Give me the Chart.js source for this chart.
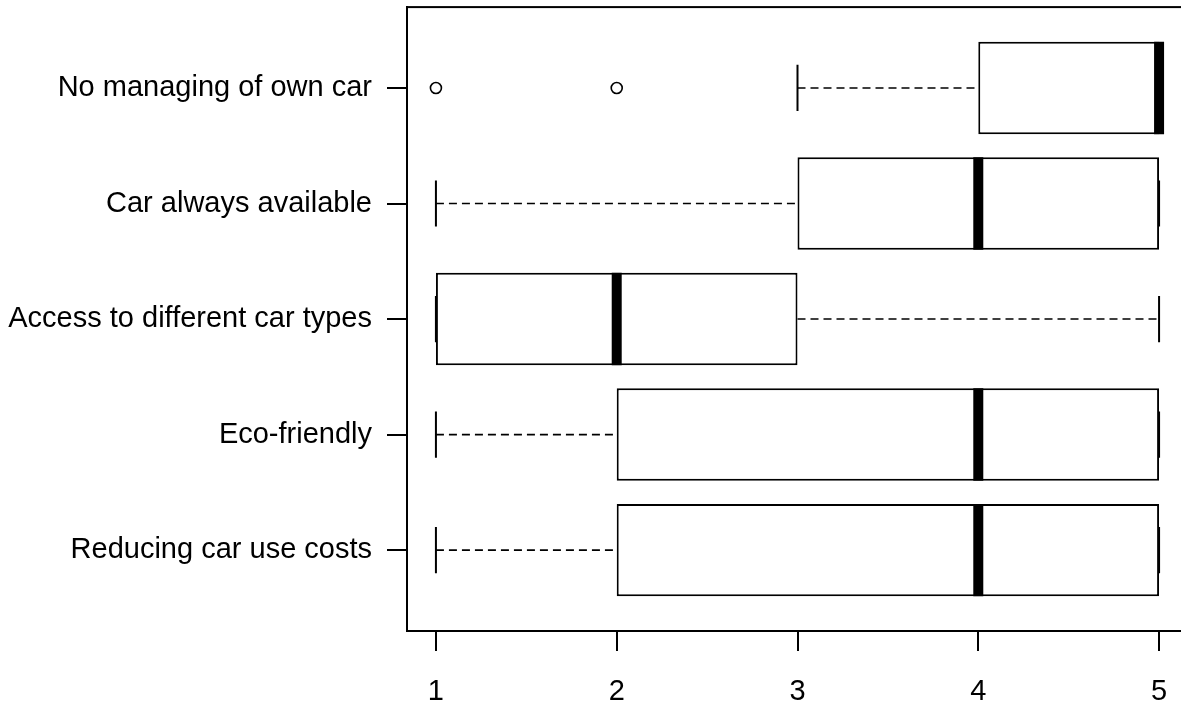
<!DOCTYPE html>
<html>
<head>
<meta charset="utf-8">
<script src="https://cdn.jsdelivr.net/npm/chart.js@4.4.1/dist/chart.umd.min.js"></script>
<style>
  html, body { margin: 0; padding: 0; background: #fff; overflow: hidden; }
  #wrap { width: 1181px; height: 711px; overflow: hidden; }
</style>
</head>
<body>
<div id="wrap"><canvas id="chart" width="1200" height="711"></canvas></div>
<script>
// categories from bottom (1) to top (5), like R's boxplot order
const categories = ['Reducing car use costs', 'Eco-friendly', 'Access to different car types', 'Car always available', 'No managing of own car'];
const whiskerLow = [1, 1, 1, 1, 3];
const q1 = [2, 2, 1, 3, 4];
const medians = [4, 4, 2, 4, 5];
const q3 = [5, 5, 3, 5, 5];
const whiskerHigh = [5, 5, 5, 5, 5];
const outliers = [[], [], [], [], [1, 2]];
const xTicks = [1, 2, 3, 4, 5];

const FONT = { family: "'Liberation Sans', Arial, sans-serif", size: 29 };

// boxes as floating bars, outliers as points
const boxData = categories.map((c, i) => ({ y: i + 1, x: [q1[i], q3[i]] }));
const outlierData = [];
outliers.forEach((arr, i) => arr.forEach(v => outlierData.push({ x: v, y: i + 1 })));

// whiskers, staples, medians and the frame, drawn with the chart's scales
const boxplotParts = {
  id: 'boxplotParts',
  beforeDatasetsDraw(chart) {
    const ctx = chart.ctx;
    const xs = chart.scales.x, ys = chart.scales.y;
    const bars = chart.getDatasetMeta(0).data;
    ctx.save();
    ctx.strokeStyle = '#000';
    categories.forEach((c, i) => {
      const y = ys.getPixelForValue(i + 1);
      const half = bars[i].height / 4;
      ctx.lineWidth = 1.6;
      ctx.setLineDash([8, 5]);
      ctx.beginPath();
      ctx.moveTo(xs.getPixelForValue(whiskerLow[i]), y);
      ctx.lineTo(xs.getPixelForValue(q1[i]), y);
      ctx.moveTo(xs.getPixelForValue(q3[i]), y);
      ctx.lineTo(xs.getPixelForValue(whiskerHigh[i]), y);
      ctx.stroke();
      ctx.setLineDash([]);
      ctx.lineWidth = 2;
      ctx.beginPath();
      [whiskerLow[i], whiskerHigh[i]].forEach(v => {
        const px = xs.getPixelForValue(v);
        ctx.moveTo(px, y - half);
        ctx.lineTo(px, y + half);
      });
      ctx.stroke();
    });
    ctx.restore();
  },
  afterDatasetsDraw(chart) {
    const ctx = chart.ctx;
    const xs = chart.scales.x, ys = chart.scales.y;
    const bars = chart.getDatasetMeta(0).data;
    const a = chart.chartArea;
    ctx.save();
    ctx.strokeStyle = '#000';
    ctx.lineWidth = 10;
    categories.forEach((c, i) => {
      const y = ys.getPixelForValue(i + 1);
      const h = bars[i].height / 2;
      let px = xs.getPixelForValue(medians[i]);
      ctx.beginPath();
      ctx.moveTo(px, y - h);
      ctx.lineTo(px, y + h);
      ctx.stroke();
    });
    ctx.lineWidth = 2;
    ctx.strokeRect(a.left, a.top, a.right - a.left, a.bottom - a.top);
    ctx.restore();
  }
};

new Chart(document.getElementById('chart'), {
  type: 'bar',
  data: {
    datasets: [{
      type: 'bar',
      indexAxis: 'y',
      data: boxData,
      backgroundColor: '#fff',
      borderColor: '#000',
      borderWidth: 2,
      borderSkipped: false,
      categoryPercentage: 1,
      barPercentage: 0.8
    }, {
      type: 'scatter',
      data: outlierData,
      pointRadius: 5.5,
      pointBorderWidth: 1.6,
      pointBorderColor: '#000',
      pointBackgroundColor: 'rgba(0,0,0,0)'
    }]
  },
  options: {
    responsive: false,
    animation: false,
    layout: { padding: { top: 6, right: 12, left: 0, bottom: 0 } },
    plugins: { legend: { display: false }, tooltip: { enabled: false } },
    scales: {
      x: {
        type: 'linear',
        min: 0.84,
        max: 5.16,
        offset: false,
        afterBuildTicks: s => { s.ticks = xTicks.map(v => ({ value: v })); },
        afterFit: s => { s.height = 80; },
        grid: { offset: false, drawOnChartArea: false, drawTicks: true, tickLength: 20, color: '#000', lineWidth: 2 },
        border: { display: true, color: '#000', width: 2 },
        ticks: { color: '#000', font: FONT, padding: 24, maxRotation: 0, callback: v => String(v) }
      },
      y: {
        type: 'linear',
        min: 0.3,
        max: 5.7,
        offset: false,
        afterBuildTicks: s => { s.ticks = categories.map((c, i) => ({ value: i + 1 })); },
        afterFit: s => { s.width = 407; s.paddingTop = 0; s.paddingBottom = 0; },
        grid: { offset: false, drawOnChartArea: false, drawTicks: true, tickLength: 20, color: '#000', lineWidth: 2 },
        border: { display: true, color: '#000', width: 2 },
        ticks: { color: '#000', font: FONT, padding: 15, callback: v => categories[v - 1] }
      }
    }
  },
  plugins: [boxplotParts]
});
</script>
</body>
</html>
